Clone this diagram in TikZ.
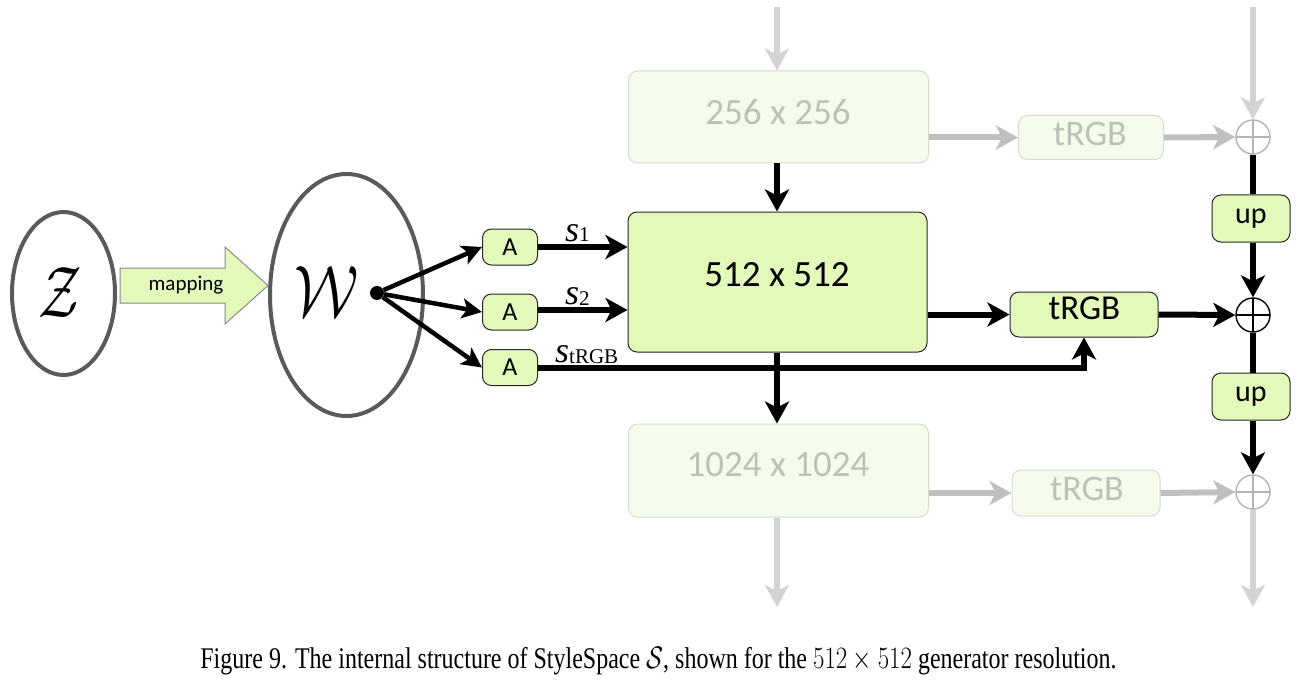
\documentclass[tikz,border=0pt]{standalone}
\usepackage{fontspec}
\setmainfont{Liberation Serif}
\newfontfamily\carl{Carlito}
\usepackage{graphicx}
\usetikzlibrary{arrows.meta,shapes.geometric,calc}
\definecolor{bgreen}{HTML}{E3F9BA}
\definecolor{fgreen}{HTML}{F5FCEC}
\definecolor{fborder}{HTML}{D5DCCD}
\definecolor{ftext}{HTML}{BCC2B6}
\definecolor{garrowv}{HTML}{D3D3D3}
\definecolor{garrowh}{HTML}{BFBFBF}
\definecolor{fplus}{HTML}{B3B3B3}
\definecolor{ellc}{HTML}{5A5A5A}
\definecolor{mapborder}{HTML}{8A8A8A}
\begin{document}
\begin{tikzpicture}[x=1pt,y=-1pt,
  gbox/.style={draw=black!85, fill=bgreen, line width=1pt, rounded corners=9pt, inner sep=0pt},
  fbox/.style={draw=fborder, fill=fgreen, line width=1pt, rounded corners=9pt, inner sep=0pt, text=ftext},
  blk/.style={line width=6pt, -{Stealth[length=22pt,width=24pt,inset=6pt]}},
  blkline/.style={line width=6pt},
  thinarr/.style={line width=4.5pt, -{Stealth[length=20pt,width=20pt,inset=5pt]}},
  gv/.style={line width=6pt, draw=garrowv, -{Stealth[length=22pt,width=24pt,inset=6pt]}},
  gh/.style={line width=6pt, draw=garrowh, -{Stealth[length=22pt,width=24pt,inset=6pt]}},
  plus/.style={circle, draw=#1, inner sep=0pt, minimum size=34pt, line width=1.4pt,
    path picture={\draw[#1, line width=1.2pt] (path picture bounding box.north) -- (path picture bounding box.south)
      (path picture bounding box.west) -- (path picture bounding box.east);}},
  lbl/.style={inner sep=0pt},
  big/.style={font=\carl\fontsize{37}{37}\selectfont},
  trgbf/.style={font=\carl\fontsize{36}{36}\selectfont},
  trgbm/.style={font=\carl\fontsize{35}{35}\selectfont},
  abox/.style={gbox, minimum width=55pt, minimum height=36pt, font=\carl\fontsize{26}{26}\selectfont},
  upbox/.style={gbox, minimum width=78pt, minimum height=47pt, font=\carl\fontsize{30}{30}\selectfont},
  ell/.style={ellipse, draw=ellc, line width=4pt, inner sep=0pt},
]
\path[use as bounding box, fill=white] (0,0) rectangle (1302,682);

% ellipses and mapping
\node[ell, minimum width=103pt, minimum height=163pt] (Z) at (63.5,293.5) {};
\node[lbl] (zl) at (60,293) {\scalebox{5.4}[7.3]{$\mathcal{Z}$}};
\node[ell, minimum width=153pt, minimum height=242pt] (W) at (346.5,295) {};
\node[lbl] (wl) at (327,292) {\scalebox{6}[7.3]{$\mathcal{W}$}};
\filldraw[fill=bgreen, draw=mapborder, line width=1pt]
  (120,268) -- (225,268) -- (225,247) -- (268,285.5) -- (225,324) -- (225,303) -- (120,303) -- cycle;
\node[lbl, anchor=base, font=\carl\fontsize{21}{21}\selectfont] (map) at (186,290) {mapping};
\node[circle, fill=black, inner sep=0pt, minimum size=14pt] (dot) at (377,293) {};

% A boxes
\node[abox] (a1) at (510,247) {A};
\node[abox] (a2) at (510,312) {A};
\node[abox] (a3) at (510,367.5) {A};

% blocks
\node[fbox, minimum width=300pt, minimum height=92pt] (b256) at (778.5,117) {};
\node[lbl, big, text=ftext] (b256l) at (778,112) {256 x 256};
\node[gbox, minimum width=299pt, minimum height=140pt] (main) at (777.5,282) {};
\node[lbl, big] (mainl) at (777,275) {512 x 512};
\node[fbox, minimum width=300pt, minimum height=93pt] (b1024) at (778.5,470.5) {};
\node[lbl, big, text=ftext] (b1024l) at (778,465) {1024 x 1024};

% tRGB
\node[fbox, minimum width=145pt, minimum height=44pt] (t256) at (1091,137.5) {};
\node[lbl, trgbf, text=ftext] (t256l) at (1090,134) {tRGB};
\node[gbox, minimum width=148pt, minimum height=45pt] (tmain) at (1084,314.5) {};
\node[lbl, trgbm] (tmainl) at (1084.5,308) {tRGB};
\node[fbox, minimum width=148pt, minimum height=46pt] (t1024) at (1086,493) {};
\node[lbl, trgbf, text=ftext] (t1024l) at (1087,489) {tRGB};

% plus and up
\node[plus=fplus] (p256) at (1253,137) {};
\node[plus=black] (pmain) at (1253,315) {};
\node[plus=fplus] (p1024) at (1253,492) {};
\node[upbox] (up1) at (1251,218.5) {up};
\node[upbox] (up2) at (1251,396.5) {up};

% free ends
\coordinate (t1) at (777,7);
\coordinate (t2) at (1253,7);
\coordinate (d1) at (777,607);
\coordinate (d2) at (1253,607);

% grey connectors
\draw[gv] (t1) -- (t1 |- b256.north);
\draw[gv] (t2) -- (p256.north);
\draw[gv] (t1 |- b1024.south) -- (d1);
\draw[gv] (p1024.south) -- (d2);
\draw[gh] (b256.east |- t256.west) -- (t256.west);
\draw[gh] (t256.east) -- (p256.west);
\draw[gh] (b1024.east |- t1024.west) -- (t1024.west);
\draw[gh] (t1024.east) -- (p1024.west);

% black connectors
\draw[blk] (t1 |- b256.south) -- (t1 |- main.north);
\draw[blk] (t1 |- main.south) -- (t1 |- b1024.north);
\draw[blkline] (p256.south) -- (p256.south |- up1.north);
\draw[blk] (p256.south |- up1.south) -- (pmain.north);
\draw[blkline] (pmain.south) -- (pmain.south |- up2.north);
\draw[blk] (pmain.south |- up2.south) -- (p1024.north);
\draw[blk] (main.east |- tmain.west) -- (tmain.west);
\draw[blk] (tmain.east) -- (pmain.west);
\draw[thinarr] (dot) -- (a1.west);
\draw[thinarr] (dot) -- (a2.west);
\draw[thinarr] (dot) -- (a3.west);
\draw[blk] (a1.east) -- (a1.east -| main.west);
\draw[blk] (a2.east |- 0,310) -- (main.west |- 0,310);
\draw[blk] (a3.east) -- (a3.east -| tmain.south) -- (tmain.south);

% style labels
\node[lbl, anchor=base west] (s1) at (565,241) {{\fontsize{36}{36}\selectfont\itshape s}{\fontsize{21}{21}\selectfont 1}};
\node[lbl, anchor=base west] (s2) at (565,304) {{\fontsize{36}{36}\selectfont\itshape s}\raisebox{-1pt}{\fontsize{21}{21}\selectfont 2}};
\node[lbl, anchor=base west] (s3) at (555,362) {{\fontsize{36}{36}\selectfont\itshape s}\raisebox{-1pt}{\fontsize{21}{21}\selectfont tRGB}};

% caption
\node[lbl, anchor=base] (cap) at (658.5,668) {\scalebox{1}[1.25]{\fontsize{24}{28}\selectfont Figure 9. The internal structure of StyleSpace $\mathcal{S}$, shown for the $512\times512$ generator resolution.}};
\end{tikzpicture}
\end{document}
